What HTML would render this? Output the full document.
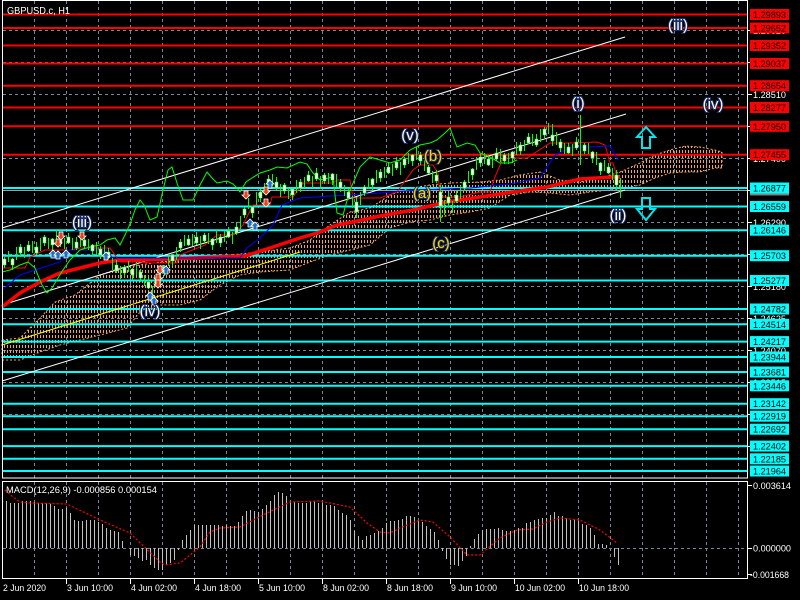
<!DOCTYPE html>
<html><head><meta charset="utf-8"><style>
html,body{margin:0;padding:0;background:#000;width:800px;height:600px;overflow:hidden}
svg{display:block}
text{font-family:"Liberation Sans",Arial,sans-serif}
</style></head><body>
<svg width="800" height="600" viewBox="0 0 800 600" xmlns="http://www.w3.org/2000/svg">
<defs>
<pattern id="cl" x="0" y="0" width="3" height="5" patternUnits="userSpaceOnUse"><rect x="1" y="0" width="1" height="3" fill="#F4A460" shape-rendering="crispEdges"/></pattern>
<symbol id="dn" overflow="visible"><polygon points="-2,-4 2,-4 2,0 4,0 0,4 -4,0 -2,0" fill="#E8401C" stroke="#fff" stroke-width="0.8"/></symbol>
<symbol id="up" overflow="visible"><polygon points="-2,4 2,4 2,0 4,0 0,-4 -4,0 -2,0" fill="#1E6EC8" stroke="#fff" stroke-width="0.8"/></symbol>
</defs>
<rect width="800" height="600" fill="#000"/>

<!-- grid -->
<g stroke="#778899" stroke-width="1" stroke-dasharray="3,3" fill="none">
<path d="M34.5 1V478M66.5 1V478M98.5 1V478M130.5 1V478M162.5 1V478M194.5 1V478M226.5 1V478M258.5 1V478M290.5 1V478M322.5 1V478M354.5 1V478M386.5 1V478M418.5 1V478M450.5 1V478M482.5 1V478M514.5 1V478M546.5 1V478M578.5 1V478M610.5 1V478M642.5 1V478M674.5 1V478M706.5 1V478M738.5 1V478"/>
<path d="M34.5 482V578M66.5 482V578M98.5 482V578M130.5 482V578M162.5 482V578M194.5 482V578M226.5 482V578M258.5 482V578M290.5 482V578M322.5 482V578M354.5 482V578M386.5 482V578M418.5 482V578M450.5 482V578M482.5 482V578M514.5 482V578M546.5 482V578M578.5 482V578M610.5 482V578M642.5 482V578M674.5 482V578M706.5 482V578M738.5 482V578"/>
<path d="M3 30.5H747M3 62.5H747M3 94.5H747M3 126.5H747M3 158.5H747M3 190.5H747M3 222.5H747M3 254.5H747M3 286.5H747M3 318.5H747M3 350.5H747M3 382.5H747M3 414.5H747M3 446.5H747"/>
<path d="M3 548.5H747"/>
</g>

<!-- cloud -->
<polygon fill="url(#cl)" stroke="#F4A460" stroke-width="1" stroke-dasharray="2,2" points="2,340 20,338 40,318 55,302 75,295 90,283 100,275 120,268 140,265 160,262 200,258 230,255 260,252 290,248 310,240 330,225 350,212 370,208 390,195 410,188 430,185 450,183 480,182 500,180 520,175 540,172 560,180 580,182 600,178 620,172 640,163 655,155 670,150 685,146 700,147 715,150 722,152 722,168 715,168 700,172 685,172 670,173 655,178 640,185 625,188 610,190 590,192 570,195 550,193 530,192 510,195 490,208 470,212 450,215 430,220 410,222 390,228 370,245 350,250 330,255 310,262 290,270 260,272 240,275 220,285 200,300 180,305 160,305 140,312 127,328 100,335 80,340 60,345 40,352 20,360 2,360"/>

<!-- horizontal red lines -->
<g stroke="#FF0000" stroke-width="2">
<path d="M3 14.5H747M3 28H747M3 45.5H747M3 63.5H747M3 85.7H747M3 107.5H747M3 126.3H747M3 154.7H747"/>
</g>
<path d="M3 190.5H747" stroke="#A0A0A0" stroke-width="1"/>
<g stroke="#00FFFF" stroke-width="2">
<path d="M3 188H747M3 206.5H747M3 230.2H747M3 255.7H747M3 280.5H747M3 309H747M3 324.3H747M3 341.6H747M3 357H747M3 372H747M3 385.8H747M3 403.7H747M3 416.2H747M3 429.2H747M3 446.1H747M3 458.8H747M3 471H747"/>
</g>

<!-- channel lines -->
<g stroke="#FFFFFF" stroke-width="1" fill="none">
<path d="M2 228L625 37"/>
<path d="M2 305L626 114"/>
<path d="M2 381L625 190"/>
</g>
<path d="M2 345L300 252" stroke="#FFFF00" stroke-width="1"/>

<polyline fill="none" stroke="#FF0000" stroke-width="3.5" points="2,307 20,293 40,282 60,273 80,268 100,263 120,260 140,260 245,256 270,248 300,238 320,232 337,225 353,222 380,216 413,210 447,202 480,197 513,192 547,187 580,179 613,177 620,177"/>
<polyline fill="none" stroke="#FF0000" stroke-width="1" points="2,268 25,268 30,257 45,250 70,250 80,248 110,248 120,262 140,262 150,263 177,263 180,255 205,245 217,235 233,235 243,225 253,205 270,205 272,197 293,197 303,183 333,183 337,180 350,180 353,198 380,198 397,192 413,170 420,165 433,165 438,173 440,197 460,197 480,192 490,192 495,177 503,158 527,158 550,143 573,143 597,142 605,145 610,163 613,163 617,177"/>
<polyline fill="none" stroke="#0000FF" stroke-width="1" points="2,290 20,275 35,270 60,262 68,250 108,250 112,258 240,258 247,248 260,238 273,225 282,205 300,198 330,196 380,193 420,190 470,188 510,184 540,178 555,155 570,148 610,146 618,160"/>

<polyline fill="none" stroke="#00FF00" stroke-width="1" points="2,272 10,270 20,265 28,262 35,268 42,285 47,293 52,288 58,278 63,270 70,260 80,250 90,247 100,245 107,240 115,238 120,245 125,235 130,224 135,210 140,200 144,205 150,220 157,217 163,190 168,170 172,167 177,183 183,200 193,200 200,185 207,172 212,178 217,183 227,181 233,184 237,188 240,192 246,182 252,178 260,173 270,170 277,167 287,168 300,162 307,164 313,173 320,180 333,177 337,213 343,215 350,190 360,167 370,157 380,160 390,163 400,160 410,150 420,145 430,143 437,140 445,133 450,128 457,147 467,143 475,145 480,153 490,157 500,163 510,163 517,160"/>

<path fill="none" stroke="#00FF00" stroke-width="1" d="M4.5 257V268M8.5 251V262M12.5 258V270M16.5 247V260M20.5 244V257M24.5 247V258M28.5 241V252M32.5 241V253M36.5 242V255M40.5 238V251M44.5 235V246M48.5 238V249M52.5 238V250M56.5 230V243M60.5 234V247M64.5 238V249M68.5 233V244M72.5 238V250M76.5 237V250M80.5 234V247M84.5 238V249M88.5 239V250M92.5 244V256M96.5 242V255M100.5 246V259M104.5 245V256M108.5 248V259M112.5 258V270M116.5 260V273M120.5 266V279M124.5 265V276M128.5 261V272M132.5 268V280M136.5 262V275M140.5 269V282M144.5 275V286M148.5 278V289M152.5 286V298M156.5 274V287M160.5 269V282M164.5 265V276M168.5 255V266M172.5 254V266M176.5 247V260M180.5 239V252M184.5 235V246M188.5 235V246M192.5 234V246M196.5 232V245M200.5 236V249M204.5 233V244M208.5 233V244M212.5 238V250M216.5 230V243M220.5 234V247M224.5 231V242M228.5 227V238M232.5 232V244M236.5 222V235M240.5 216V229M244.5 207V218M248.5 198V209M252.5 206V218M256.5 192V205M260.5 189V202M264.5 183V194M268.5 175V186M272.5 174V186M276.5 177V190M280.5 184V197M284.5 183V194M288.5 188V199M292.5 188V200M296.5 180V193M300.5 179V192M304.5 177V188M308.5 171V182M312.5 176V188M316.5 168V181M320.5 176V189M324.5 173V184M328.5 173V184M332.5 173V185M336.5 174V187M340.5 179V192M344.5 185V196M348.5 188V199M352.5 196V208M356.5 197V218M360.5 192V205M364.5 185V196M368.5 178V189M372.5 178V190M376.5 170V183M380.5 169V182M384.5 167V178M388.5 163V174M392.5 164V176M396.5 157V170M400.5 162V175M404.5 157V168M408.5 153V164M412.5 154V166M416.5 147V160M420.5 152V165M424.5 160V171M428.5 163V174M432.5 171V183M436.5 170V183M440.5 185V222M444.5 200V215M448.5 193V208M452.5 201V213M456.5 190V203M460.5 186V199M464.5 180V191M468.5 171V182M472.5 168V180M476.5 157V170M480.5 154V167M484.5 153V164M488.5 155V166M492.5 156V168M496.5 148V161M500.5 149V162M504.5 153V164M508.5 153V164M512.5 151V163M516.5 142V155M520.5 142V155M524.5 140V151M528.5 133V144M532.5 134V146M536.5 134V147M540.5 129V142M544.5 127V138M548.5 123V134M552.5 124V146M556.5 132V145M560.5 139V152M564.5 143V154M568.5 143V154M572.5 144V156M576.5 137V150M580.5 115V165M584.5 143V154M588.5 143V154M592.5 151V163M596.5 152V165M600.5 162V175M604.5 160V171M608.5 163V174M612.5 168V180M616.5 170V190M620.5 178V198"/>
<path fill="#FFFFFF" stroke="#00FF00" stroke-width="0.6" d="M3 259h3v6h-3zM11 259h3v6h-3zM19 247h3v6h-3zM27 245h3v6h-3zM35 247h3v6h-3zM43 237h3v6h-3zM51 239h3v6h-3zM59 237h3v6h-3zM67 237h3v6h-3zM75 242h3v6h-3zM83 240h3v6h-3zM91 245h3v6h-3zM99 249h3v6h-3zM107 252h3v6h-3zM115 265h3v6h-3zM123 267h3v6h-3zM131 269h3v6h-3zM139 272h3v6h-3zM147 282h3v6h-3zM155 279h3v6h-3zM163 267h3v6h-3zM171 255h3v6h-3zM179 242h3v6h-3zM187 239h3v6h-3zM195 237h3v6h-3zM203 235h3v6h-3zM211 239h3v6h-3zM219 237h3v6h-3zM227 231h3v6h-3zM235 227h3v6h-3zM243 209h3v6h-3zM251 207h3v6h-3zM259 192h3v6h-3zM267 179h3v6h-3zM275 182h3v6h-3zM283 185h3v6h-3zM291 189h3v6h-3zM299 182h3v6h-3zM307 175h3v6h-3zM315 173h3v6h-3zM323 175h3v6h-3zM331 174h3v6h-3zM339 182h3v6h-3zM347 192h3v6h-3zM355 202h3v10h-3zM363 187h3v6h-3zM371 179h3v6h-3zM379 172h3v6h-3zM387 167h3v6h-3zM395 162h3v6h-3zM403 159h3v6h-3zM411 155h3v6h-3zM419 155h3v6h-3zM427 167h3v6h-3zM435 175h3v6h-3zM439 192h3v14h-3zM447 197h3v6h-3zM455 195h3v6h-3zM463 182h3v6h-3zM471 169h3v6h-3zM479 157h3v6h-3zM487 159h3v6h-3zM495 153h3v6h-3zM503 155h3v6h-3zM511 152h3v6h-3zM519 145h3v6h-3zM527 137h3v6h-3zM535 139h3v6h-3zM543 129h3v6h-3zM551 135h3v6h-3zM559 142h3v6h-3zM567 147h3v6h-3zM575 142h3v6h-3zM583 145h3v6h-3zM591 152h3v6h-3zM599 163h3v8h-3zM607 167h3v6h-3zM615 175h3v10h-3z"/>

<use href="#dn" x="61" y="236"/><use href="#dn" x="58" y="243"/><use href="#dn" x="82" y="236"/>
<use href="#dn" x="246" y="195"/><use href="#dn" x="266" y="203"/><use href="#dn" x="266" y="191"/>
<use href="#dn" x="160" y="270"/><use href="#dn" x="158" y="278"/><use href="#dn" x="158" y="284"/>
<use href="#up" x="53" y="254"/><use href="#up" x="58" y="255"/><use href="#up" x="66" y="254"/><use href="#up" x="106" y="256"/>
<use href="#up" x="270" y="184"/><use href="#up" x="250" y="223"/><use href="#up" x="255" y="226"/>
<use href="#up" x="166" y="270"/><use href="#up" x="150" y="296"/><use href="#up" x="154" y="301"/>

<polygon points="646,127 655,137 650,137 650,148 642,148 642,137 637,137" fill="none" stroke="#00E5EE" stroke-width="2"/>
<polygon points="642,198 650,198 650,209 655,209 646,220 637,209 642,209" fill="none" stroke="#00E5EE" stroke-width="2"/>

<g font-size="15" paint-order="stroke" stroke="#1A2E6A" stroke-width="2" text-anchor="middle">
<text x="82" y="227" fill="#FFFFFF">(iii)</text>
<text x="150" y="316" fill="#FFFFFF">(iv)</text>
<text x="410" y="140" fill="#FFFFFF">(v)</text>
<text x="433" y="161" fill="#FFD700">(b)</text>
<text x="422" y="198" fill="#FFD700">(a)</text>
<text x="441" y="248" fill="#FFD700">(c)</text>
<text x="578" y="108" fill="#FFFFFF">(i)</text>
<text x="618" y="220" fill="#FFFFFF">(ii)</text>
<text x="678" y="30" fill="#FFFFFF">(iii)</text>
<text x="713" y="109" fill="#FFFFFF">(iv)</text>
</g>

<text x="7" y="14" font-size="10" fill="#FFFFFF" textLength="63" lengthAdjust="spacingAndGlyphs">GBPUSD.c, H1</text>

<rect x="2.5" y="0.5" width="745" height="477.5" fill="none" stroke="#FFFFFF" stroke-width="1"/>
<rect x="2.5" y="481.5" width="745" height="97" fill="none" stroke="#FFFFFF" stroke-width="1"/>

<g stroke="#FFFFFF" stroke-width="1">
<path d="M748 30.5h4M748 62.5h4M748 94.5h4M748 126.5h4M748 158.5h4M748 190.5h4M748 222.5h4M748 254.5h4M748 286.5h4M748 318.5h4M748 350.5h4M748 382.5h4M748 414.5h4M748 446.5h4M748 485.5h4M748 548.5h4M748 574.5h4"/>
</g>
<g font-size="9" fill="#FFFFFF">
<text x="753" y="34" textLength="33" lengthAdjust="spacingAndGlyphs">1.29620</text>
<text x="753" y="66" textLength="33" lengthAdjust="spacingAndGlyphs">1.29065</text>
<text x="753" y="98" textLength="33" lengthAdjust="spacingAndGlyphs">1.28510</text>
<text x="753" y="130" textLength="33" lengthAdjust="spacingAndGlyphs">1.27955</text>
<text x="753" y="162" textLength="33" lengthAdjust="spacingAndGlyphs">1.27400</text>
<text x="753" y="194" textLength="33" lengthAdjust="spacingAndGlyphs">1.26845</text>
<text x="753" y="226" textLength="33" lengthAdjust="spacingAndGlyphs">1.26290</text>
<text x="753" y="258" textLength="33" lengthAdjust="spacingAndGlyphs">1.25735</text>
<text x="753" y="290" textLength="33" lengthAdjust="spacingAndGlyphs">1.25180</text>
<text x="753" y="322" textLength="33" lengthAdjust="spacingAndGlyphs">1.24625</text>
<text x="753" y="354" textLength="33" lengthAdjust="spacingAndGlyphs">1.24070</text>
<text x="753" y="386" textLength="33" lengthAdjust="spacingAndGlyphs">1.23515</text>
<text x="753" y="418" textLength="33" lengthAdjust="spacingAndGlyphs">1.22960</text>
<text x="753" y="450" textLength="33" lengthAdjust="spacingAndGlyphs">1.22405</text>
</g>

<g fill="#FF0000">
<rect x="750" y="9" width="39" height="11"/>
<rect x="750" y="22.5" width="39" height="11"/>
<rect x="750" y="40" width="39" height="11"/>
<rect x="750" y="58" width="39" height="11"/>
<rect x="750" y="80.2" width="39" height="11"/>
<rect x="750" y="102" width="39" height="11"/>
<rect x="750" y="120.8" width="39" height="11"/>
<rect x="750" y="149.2" width="39" height="11"/>
</g>
<g font-size="9" fill="#000000">
<text x="753" y="18" textLength="33" lengthAdjust="spacingAndGlyphs">1.29893</text>
<text x="753" y="31.5" textLength="33" lengthAdjust="spacingAndGlyphs">1.29652</text>
<text x="753" y="49" textLength="33" lengthAdjust="spacingAndGlyphs">1.29352</text>
<text x="753" y="67" textLength="33" lengthAdjust="spacingAndGlyphs">1.29037</text>
<text x="753" y="89.2" textLength="33" lengthAdjust="spacingAndGlyphs">1.28654</text>
<text x="753" y="111" textLength="33" lengthAdjust="spacingAndGlyphs">1.28277</text>
<text x="753" y="129.8" textLength="33" lengthAdjust="spacingAndGlyphs">1.27950</text>
<text x="753" y="158.2" textLength="33" lengthAdjust="spacingAndGlyphs">1.27455</text>
</g>

<rect x="750" y="193.5" width="39" height="2" fill="#808080"/>
<g fill="#00FFFF">
<rect x="750" y="182.5" width="39" height="11"/>
<rect x="750" y="201" width="39" height="11"/>
<rect x="750" y="224.7" width="39" height="11"/>
<rect x="750" y="250.2" width="39" height="11"/>
<rect x="750" y="275" width="39" height="11"/>
<rect x="750" y="303.5" width="39" height="11"/>
<rect x="750" y="318.8" width="39" height="11"/>
<rect x="750" y="336.1" width="39" height="11"/>
<rect x="750" y="351.5" width="39" height="11"/>
<rect x="750" y="366.5" width="39" height="11"/>
<rect x="750" y="380.3" width="39" height="11"/>
<rect x="750" y="398.2" width="39" height="11"/>
<rect x="750" y="410.7" width="39" height="11"/>
<rect x="750" y="423.7" width="39" height="11"/>
<rect x="750" y="440.6" width="39" height="11"/>
<rect x="750" y="453.3" width="39" height="11"/>
<rect x="750" y="465.5" width="39" height="11"/>
</g>
<g font-size="9" fill="#000000">
<text x="753" y="191.5" textLength="33" lengthAdjust="spacingAndGlyphs">1.26877</text>
<text x="753" y="210" textLength="33" lengthAdjust="spacingAndGlyphs">1.26559</text>
<text x="753" y="233.7" textLength="33" lengthAdjust="spacingAndGlyphs">1.26146</text>
<text x="753" y="259.2" textLength="33" lengthAdjust="spacingAndGlyphs">1.25703</text>
<text x="753" y="284" textLength="33" lengthAdjust="spacingAndGlyphs">1.25277</text>
<text x="753" y="312.5" textLength="33" lengthAdjust="spacingAndGlyphs">1.24782</text>
<text x="753" y="327.8" textLength="33" lengthAdjust="spacingAndGlyphs">1.24514</text>
<text x="753" y="345.1" textLength="33" lengthAdjust="spacingAndGlyphs">1.24217</text>
<text x="753" y="360.5" textLength="33" lengthAdjust="spacingAndGlyphs">1.23944</text>
<text x="753" y="375.5" textLength="33" lengthAdjust="spacingAndGlyphs">1.23681</text>
<text x="753" y="389.3" textLength="33" lengthAdjust="spacingAndGlyphs">1.23446</text>
<text x="753" y="407.2" textLength="33" lengthAdjust="spacingAndGlyphs">1.23142</text>
<text x="753" y="419.7" textLength="33" lengthAdjust="spacingAndGlyphs">1.22919</text>
<text x="753" y="432.7" textLength="33" lengthAdjust="spacingAndGlyphs">1.22692</text>
<text x="753" y="449.6" textLength="33" lengthAdjust="spacingAndGlyphs">1.22402</text>
<text x="753" y="462.3" textLength="33" lengthAdjust="spacingAndGlyphs">1.22185</text>
<text x="753" y="474.5" textLength="33" lengthAdjust="spacingAndGlyphs">1.21964</text>
</g>

<path fill="none" stroke="#C0C0C0" stroke-width="1" d="M6.5 548V501M10.5 548V503M14.5 548V503M18.5 548V503M22.5 548V501M26.5 548V501M30.5 548V501M34.5 548V502M38.5 548V503M42.5 548V503M46.5 548V503M50.5 548V504M54.5 548V506M58.5 548V509M62.5 548V509M66.5 548V508M70.5 548V513M74.5 548V520M78.5 548V521M82.5 548V521M86.5 548V520M90.5 548V520M94.5 548V520M98.5 548V522M102.5 548V524M106.5 548V528M110.5 548V530M114.5 548V531M118.5 548V532M122.5 548V541M130.5 548V555M134.5 548V556M138.5 548V558M142.5 548V561M146.5 548V560M150.5 548V565M154.5 548V568M158.5 548V570M162.5 548V570M166.5 548V565M170.5 548V563M174.5 548V560M178.5 548V550M182.5 548V540M186.5 548V535M190.5 548V530M194.5 548V525M198.5 548V525M202.5 548V525M206.5 548V525M210.5 548V525M214.5 548V525M218.5 548V525M222.5 548V526M226.5 548V525M230.5 548V526M234.5 548V526M238.5 548V522M242.5 548V516M246.5 548V511M250.5 548V510M254.5 548V511M258.5 548V512M262.5 548V509M266.5 548V505M270.5 548V501M274.5 548V495M278.5 548V492M282.5 548V493M286.5 548V496M290.5 548V501M294.5 548V502M298.5 548V503M302.5 548V503M306.5 548V503M310.5 548V502M314.5 548V501M318.5 548V503M322.5 548V503M326.5 548V505M330.5 548V505M334.5 548V506M338.5 548V510M342.5 548V513M346.5 548V515M350.5 548V520M354.5 548V531M358.5 548V536M362.5 548V540M366.5 548V536M370.5 548V535M374.5 548V533M378.5 548V531M382.5 548V528M386.5 548V523M390.5 548V521M394.5 548V521M398.5 548V520M402.5 548V519M406.5 548V516M410.5 548V516M414.5 548V517M418.5 548V520M422.5 548V522M426.5 548V526M430.5 548V529M434.5 548V532M438.5 548V540M442.5 548V551M446.5 548V559M450.5 548V565M454.5 548V565M458.5 548V566M462.5 548V561M466.5 548V556M470.5 548V546M474.5 548V539M478.5 548V534M482.5 548V530M486.5 548V529M490.5 548V529M494.5 548V529M498.5 548V528M502.5 548V530M506.5 548V531M510.5 548V531M514.5 548V530M518.5 548V528M522.5 548V528M526.5 548V523M530.5 548V522M534.5 548V520M538.5 548V519M542.5 548V518M546.5 548V518M550.5 548V515M554.5 548V512M558.5 548V516M562.5 548V516M566.5 548V518M570.5 548V520M574.5 548V520M578.5 548V521M582.5 548V524M586.5 548V525M590.5 548V528M594.5 548V535M598.5 548V544M602.5 548V544M606.5 548V545M614.5 548V557M618.5 548V565"/>
<polyline fill="none" stroke="#FF0000" stroke-width="1.2" stroke-dasharray="2,2" points="5,490 13,497 20,502 30,503 67,504 100,520 130,533 160,562 165,565 180,563 200,547 210,532 220,528 240,527 267,513 290,502 320,501 350,507 367,523 380,532 390,533 400,528 420,520 433,522 450,537 467,555 480,555 500,538 517,530 533,529 547,522 560,518 580,520 600,530 617,543"/>

<text x="6" y="493" font-size="9" fill="#FFFFFF" textLength="151" lengthAdjust="spacingAndGlyphs">MACD(12,26,9) -0.000856 0.000154</text>
<g font-size="9" fill="#FFFFFF">
<text x="753" y="489" textLength="38" lengthAdjust="spacingAndGlyphs">0.003614</text>
<text x="753" y="551.5" textLength="38" lengthAdjust="spacingAndGlyphs">0.000000</text>
<text x="750" y="578" textLength="39" lengthAdjust="spacingAndGlyphs">-0.001668</text>
</g>

<path stroke="#FFFFFF" stroke-width="1" d="M66.5 579V584M130.5 579V584M194.5 579V584M258.5 579V584M322.5 579V584M386.5 579V584M450.5 579V584M514.5 579V584M578.5 579V584"/>
<g font-size="9" fill="#FFFFFF">
<text x="3" y="591" textLength="43" lengthAdjust="spacingAndGlyphs">2 Jun 2020</text>
<text x="67" y="591" textLength="46" lengthAdjust="spacingAndGlyphs">3 Jun 10:00</text>
<text x="131" y="591" textLength="46" lengthAdjust="spacingAndGlyphs">4 Jun 02:00</text>
<text x="195" y="591" textLength="46" lengthAdjust="spacingAndGlyphs">4 Jun 18:00</text>
<text x="259" y="591" textLength="46" lengthAdjust="spacingAndGlyphs">5 Jun 10:00</text>
<text x="323" y="591" textLength="46" lengthAdjust="spacingAndGlyphs">8 Jun 02:00</text>
<text x="387" y="591" textLength="46" lengthAdjust="spacingAndGlyphs">8 Jun 18:00</text>
<text x="451" y="591" textLength="46" lengthAdjust="spacingAndGlyphs">9 Jun 10:00</text>
<text x="515" y="591" textLength="50" lengthAdjust="spacingAndGlyphs">10 Jun 02:00</text>
<text x="579" y="591" textLength="50" lengthAdjust="spacingAndGlyphs">10 Jun 18:00</text>
</g>
</svg>
</body></html>
